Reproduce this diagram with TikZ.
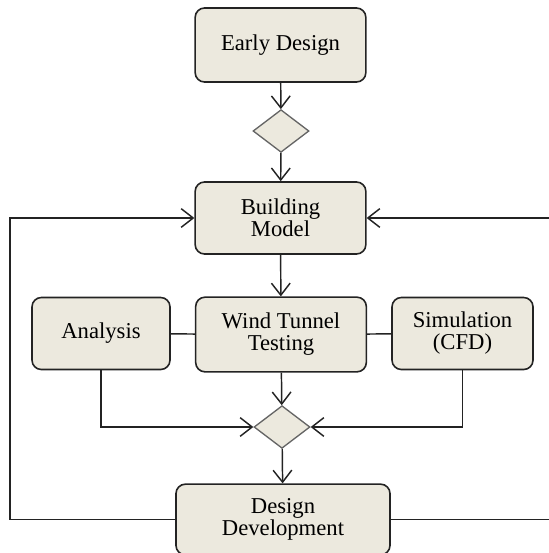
\documentclass[tikz,border=0pt]{standalone}
\usepackage{fontspec}
\setmainfont{Liberation Serif}
\usetikzlibrary{arrows.meta,shapes.geometric}
\definecolor{boxfill}{RGB}{236,233,222}
\definecolor{boxline}{RGB}{35,35,35}
\begin{document}
\begin{tikzpicture}[x=0.75pt,y=-0.75pt,
    stage/.style={draw=boxline,fill=boxfill,line width=1.2pt,rounded corners=7pt,
        minimum width=128pt,minimum height=54pt,inner sep=0pt,align=center,
        font=\fontsize{17pt}{16.5pt}\selectfont},
    merge/.style={draw=boxline!70,fill=boxfill,line width=1pt,diamond,inner sep=0pt,
        minimum width=42pt,minimum height=32pt},
    link/.style={line width=1.1pt,draw=boxline},
    flow/.style={link,-{Straight Barb[length=9pt,width=14pt]}}]
    \useasboundingbox (0,0) rectangle (549,553);
    \clip (0,0) rectangle (549,553);

    % Stages
    \node[stage,minimum height=55.5pt] (early) at (280.5,45) {Early Design};
    \node[merge] (split) at (281,131) {};
    \node[stage] (model) at (280.5,218) {Building\\Model};
    \node[stage,minimum height=56pt] (tunnel) at (281,334.5) {Wind Tunnel\\Testing};
    \node[stage,minimum width=103.5pt] (analysis) at (101,333.5) {Analysis};
    \node[stage,minimum width=105.75pt] (cfd) at (462.5,333.5) {Simulation\\(CFD)};
    \node[merge] (join) at (282,427) {};
    \node[stage,minimum width=160.5pt,minimum height=53pt] (develop) at (283,519.5) {Design\\Development};

    % Loop corners
    \coordinate (loopL) at (10,360);
    \coordinate (loopR) at (553,360);

    % Main flow
    \draw[flow] (early) -- (split);
    \draw[flow] (split) -- (model);
    \draw[flow] (model) -- (tunnel);
    \draw[link] (analysis) -- (tunnel);
    \draw[link] (cfd) -- (tunnel);
    \draw[flow] (tunnel) -- (join);
    \draw[flow] (analysis) |- (join);
    \draw[flow] (cfd) |- (join);
    \draw[flow] (join) -- (develop);

    % Feedback
    \draw[flow] (develop.west) -| (loopL |- model.west) -- (model.west);
    \draw[flow] (develop.east) -| (loopR |- model.east) -- (model.east);
\end{tikzpicture}
\end{document}
